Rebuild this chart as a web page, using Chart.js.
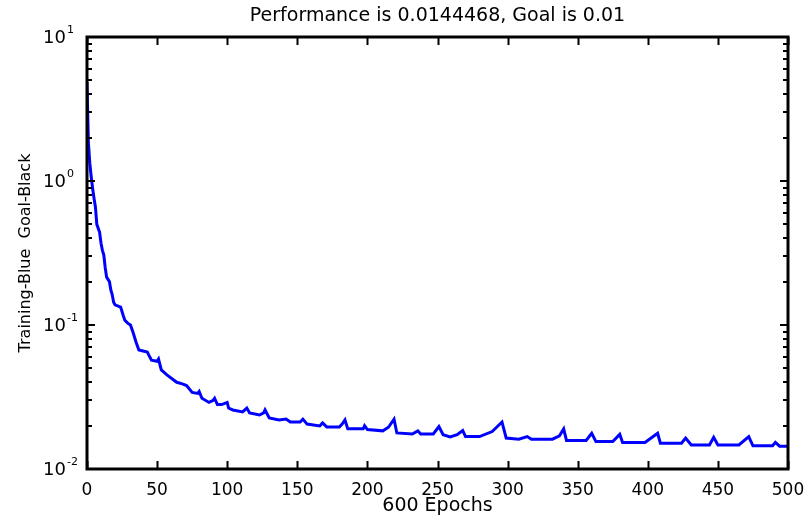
<!DOCTYPE html>
<html>
<head>
<meta charset="utf-8">
<script src="https://cdn.jsdelivr.net/npm/chart.js@4.4.1/dist/chart.umd.min.js"></script>
<style>
  html, body { margin: 0; padding: 0; background: #fff; }
  #wrap { width: 810px; height: 517px; }
</style>
</head>
<body>
<div id="wrap"><canvas id="perfChart" width="810" height="517"></canvas></div>
<script>
// training record
const epochs = [0, 1, 2, 3, 4, 5, 6, 7, 9, 10, 11, 12, 13, 14, 16, 17, 18, 19, 20, 24,
  26, 27, 29, 31, 33, 35, 37, 40, 43, 44, 46, 50, 51, 53, 57, 64, 68, 71, 75, 79,
  80, 82, 87, 90, 91, 93, 96, 100, 101, 104, 111, 114, 116, 123, 126, 127, 130, 137, 142, 145,
  152, 154, 157, 166, 168, 171, 180, 182, 184, 186, 197, 198, 200, 211, 215, 219, 221, 232, 236, 238,
  247, 251, 254, 259, 264, 268, 270, 280, 289, 294, 296, 299, 308, 314, 317, 332, 337, 340, 342, 356,
  360, 363, 375, 380, 382, 398, 407, 409, 424, 427, 431, 444, 447, 450, 465, 472, 475, 489, 491, 494,
  500];
const perf = [4.87, 1.84, 1.33, 1.07, 0.89, 0.76, 0.66, 0.5, 0.44, 0.37, 0.33, 0.306, 0.25, 0.215, 0.2, 0.175, 0.162, 0.144, 0.138, 0.133,
  0.115, 0.108, 0.103, 0.1, 0.088, 0.076, 0.067, 0.066, 0.065, 0.062, 0.057, 0.056, 0.058, 0.0487, 0.045, 0.040, 0.039, 0.038, 0.034, 0.0335,
  0.0345, 0.031, 0.029, 0.030, 0.031, 0.028, 0.028, 0.029, 0.0265, 0.0257, 0.0249, 0.0265, 0.0245, 0.0237, 0.0245, 0.0257, 0.0226, 0.0219, 0.0222, 0.0212,
  0.0212, 0.0222, 0.0205, 0.0199, 0.0209, 0.0196, 0.0196, 0.0205, 0.0219, 0.0190, 0.0190, 0.0200, 0.0188, 0.0184, 0.0195, 0.0222, 0.0178, 0.0175, 0.0184, 0.0175,
  0.0175, 0.0197, 0.0173, 0.0167, 0.0173, 0.0185, 0.0168, 0.0168, 0.0182, 0.0203, 0.0212, 0.0164, 0.0161, 0.0168, 0.0161, 0.0161, 0.0170, 0.0190, 0.0158, 0.0158,
  0.0177, 0.0155, 0.0155, 0.0174, 0.0153, 0.0153, 0.0177, 0.0151, 0.0151, 0.0164, 0.0147, 0.0147, 0.0166, 0.0147, 0.0147, 0.0168, 0.0145, 0.0145, 0.0153, 0.0144,
  0.0144];
const goalEpochs = [0, 500];
const goal = [0.01, 0.01];

const xTicks = [0, 50, 100, 150, 200, 250, 300, 350, 400, 450, 500];
const yDecades = [10, 1, 0.1, 0.01];
const yExponents = ["1", "0", "-1", "-2"];

const titleText = "Performance is 0.0144468, Goal is 0.01";
const xTitle = "600 Epochs";
const yTitle = "Training-Blue  Goal-Black";

const FONT = "'DejaVu Sans', 'Liberation Sans', sans-serif";

// axes box, inside ticks, y labels with exponents, titles
const matlabAxes = {
  id: "matlabAxes",
  afterDraw(chart) {
    const ctx = chart.ctx;
    const a = chart.chartArea;
    const xs = chart.scales.x, ys = chart.scales.y;
    ctx.save();
    ctx.strokeStyle = "#000";
    ctx.fillStyle = "#000";

    ctx.lineWidth = 2;
    ctx.beginPath();
    xTicks.forEach(v => {
      const px = Math.round(xs.getPixelForValue(v)) + 0.5;
      ctx.moveTo(px, a.bottom); ctx.lineTo(px, a.bottom - 8);
      ctx.moveTo(px, a.top); ctx.lineTo(px, a.top + 8);
    });
    for (let d = 0; d < yDecades.length - 1; d++) {
      const base = yDecades[d + 1];
      for (let m = 1; m <= 9; m++) {
        const py = Math.round(ys.getPixelForValue(base * m));
        const len = m === 1 ? 8 : 5;
        ctx.moveTo(a.left, py); ctx.lineTo(a.left + len, py);
        ctx.moveTo(a.right, py); ctx.lineTo(a.right - len, py);
      }
    }
    ctx.stroke();

    ctx.lineWidth = 3;
    ctx.strokeRect(a.left, a.top, a.right - a.left, a.bottom - a.top);

    // y tick labels: 10 with raised exponent
    yDecades.forEach((v, i) => {
      const py = ys.getPixelForValue(v);
      ctx.font = "18px " + FONT;
      ctx.textAlign = "right";
      ctx.textBaseline = "middle";
      ctx.fillText("10", 66, py + 1);
      ctx.font = "11px " + FONT;
      ctx.textAlign = "left";
      ctx.fillText(yExponents[i], 67, py - 7);
    });

    ctx.font = "19px " + FONT;
    ctx.textAlign = "center";
    ctx.textBaseline = "middle";
    ctx.fillText(titleText, (a.left + a.right) / 2, 16);

    ctx.font = "16px " + FONT;
    ctx.translate(26, (a.top + a.bottom) / 2);
    ctx.rotate(-Math.PI / 2);
    ctx.fillText(yTitle, 0, 0);
    ctx.restore();
  }
};

new Chart(document.getElementById("perfChart"), {
  type: "line",
  data: {
    datasets: [{
      label: "Training",
      data: epochs.map((e, i) => ({ x: e, y: perf[i] })),
      borderColor: "#0000ff",
      borderWidth: 3,
      pointRadius: 0,
      tension: 0,
      fill: false
    }, {
      label: "Goal",
      data: goalEpochs.map((e, i) => ({ x: e, y: goal[i] })),
      borderColor: "#000",
      borderWidth: 2,
      pointRadius: 0,
      fill: false
    }]
  },
  options: {
    responsive: false,
    animation: false,
    devicePixelRatio: 1,
    layout: { padding: { left: 0, right: 22, top: 37, bottom: 0 } },
    plugins: { legend: { display: false }, tooltip: { enabled: false } },
    scales: {
      x: {
        type: "linear",
        min: 0,
        max: 500,
        grid: { display: false },
        border: { display: false },
        ticks: {
          stepSize: 50,
          autoSkip: false,
          maxRotation: 0,
          color: "#000",
          padding: 3,
          font: { family: FONT, size: 17 }
        },
        title: {
          display: true,
          text: xTitle,
          color: "#000",
          padding: { top: 1, bottom: 0 },
          font: { family: FONT, size: 19 }
        },
        afterFit(scale) { scale.height = 48; }
      },
      y: {
        type: "logarithmic",
        min: 0.01,
        max: 10,
        grid: { display: false },
        border: { display: false },
        ticks: { display: false },
        afterFit(scale) { scale.width = 87; }
      }
    }
  },
  plugins: [matlabAxes]
});
</script>
</body>
</html>
